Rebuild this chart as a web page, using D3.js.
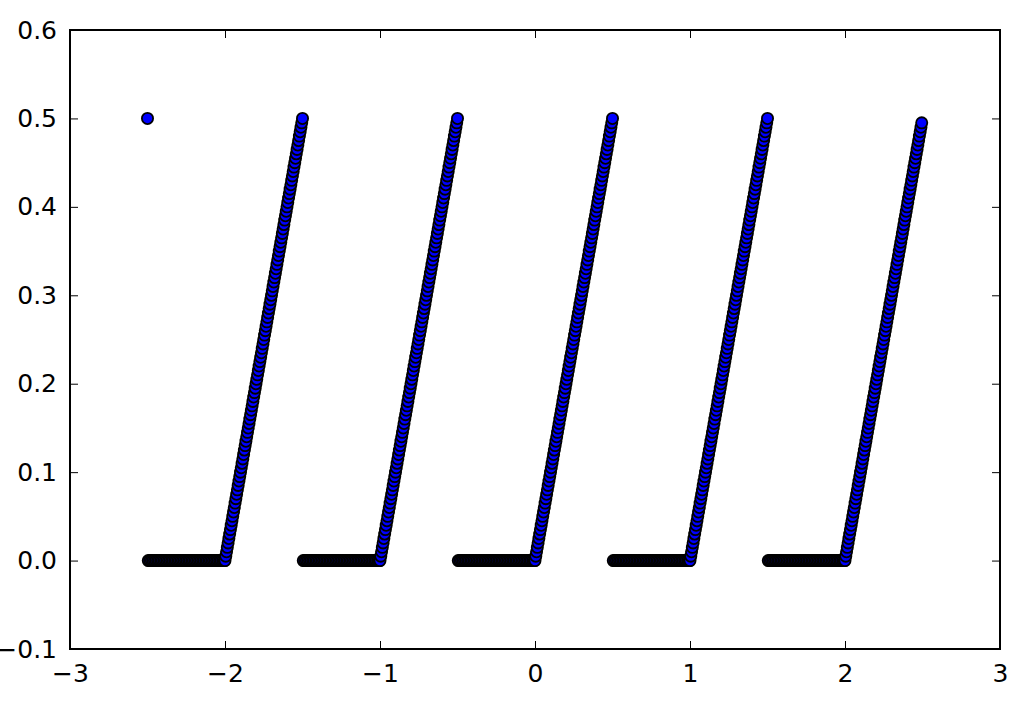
<!DOCTYPE html>
<html>
<head>
<meta charset="utf-8">
<script src="https://cdn.jsdelivr.net/npm/d3@7"></script>
<style>
  body { margin: 0; background: #fff; }
  text { font-family: "DejaVu Sans", sans-serif; }
</style>
</head>
<body>
<div id="chart"></div>
<script>
// points, segment by segment (left to right)
const loneX = [-2.5];
const loneY = [0.5];

const flatX1 = [-2.495,-2.485,-2.475,-2.465,-2.455,-2.445,-2.435,-2.425,-2.415,-2.405,-2.395,-2.385,-2.375,-2.365,-2.355,-2.345,-2.335,-2.325,-2.315,-2.305,-2.295,-2.285,-2.275,-2.265,-2.255,-2.245,-2.235,-2.225,-2.215,-2.205,-2.195,-2.185,-2.175,-2.165,-2.155,-2.145,-2.135,-2.125,-2.115,-2.105,-2.095,-2.085,-2.075,-2.065,-2.055,-2.045,-2.035,-2.025,-2.015,-2.005];
const flatX2 = [-1.495,-1.485,-1.475,-1.465,-1.455,-1.445,-1.435,-1.425,-1.415,-1.405,-1.395,-1.385,-1.375,-1.365,-1.355,-1.345,-1.335,-1.325,-1.315,-1.305,-1.295,-1.285,-1.275,-1.265,-1.255,-1.245,-1.235,-1.225,-1.215,-1.205,-1.195,-1.185,-1.175,-1.165,-1.155,-1.145,-1.135,-1.125,-1.115,-1.105,-1.095,-1.085,-1.075,-1.065,-1.055,-1.045,-1.035,-1.025,-1.015,-1.005];
const flatX3 = [-0.495,-0.485,-0.475,-0.465,-0.455,-0.445,-0.435,-0.425,-0.415,-0.405,-0.395,-0.385,-0.375,-0.365,-0.355,-0.345,-0.335,-0.325,-0.315,-0.305,-0.295,-0.285,-0.275,-0.265,-0.255,-0.245,-0.235,-0.225,-0.215,-0.205,-0.195,-0.185,-0.175,-0.165,-0.155,-0.145,-0.135,-0.125,-0.115,-0.105,-0.095,-0.085,-0.075,-0.065,-0.055,-0.045,-0.035,-0.025,-0.015,-0.005];
const flatX4 = [0.505,0.515,0.525,0.535,0.545,0.555,0.565,0.575,0.585,0.595,0.605,0.615,0.625,0.635,0.645,0.655,0.665,0.675,0.685,0.695,0.705,0.715,0.725,0.735,0.745,0.755,0.765,0.775,0.785,0.795,0.805,0.815,0.825,0.835,0.845,0.855,0.865,0.875,0.885,0.895,0.905,0.915,0.925,0.935,0.945,0.955,0.965,0.975,0.985,0.995];
const flatX5 = [1.505,1.515,1.525,1.535,1.545,1.555,1.565,1.575,1.585,1.595,1.605,1.615,1.625,1.635,1.645,1.655,1.665,1.675,1.685,1.695,1.705,1.715,1.725,1.735,1.745,1.755,1.765,1.775,1.785,1.795,1.805,1.815,1.825,1.835,1.845,1.855,1.865,1.875,1.885,1.895,1.905,1.915,1.925,1.935,1.945,1.955,1.965,1.975,1.985,1.995];
const flatY = [0,0,0,0,0,0,0,0,0,0,0,0,0,0,0,0,0,0,0,0,0,0,0,0,0,0,0,0,0,0,0,0,0,0,0,0,0,0,0,0,0,0,0,0,0,0,0,0,0,0];

const rampX1 = [-2,-1.995,-1.99,-1.985,-1.98,-1.975,-1.97,-1.965,-1.96,-1.955,-1.95,-1.945,-1.94,-1.935,-1.93,-1.925,-1.92,-1.915,-1.91,-1.905,-1.9,-1.895,-1.89,-1.885,-1.88,-1.875,-1.87,-1.865,-1.86,-1.855,-1.85,-1.845,-1.84,-1.835,-1.83,-1.825,-1.82,-1.815,-1.81,-1.805,-1.8,-1.795,-1.79,-1.785,-1.78,-1.775,-1.77,-1.765,-1.76,-1.755,-1.75,-1.745,-1.74,-1.735,-1.73,-1.725,-1.72,-1.715,-1.71,-1.705,-1.7,-1.695,-1.69,-1.685,-1.68,-1.675,-1.67,-1.665,-1.66,-1.655,-1.65,-1.645,-1.64,-1.635,-1.63,-1.625,-1.62,-1.615,-1.61,-1.605,-1.6,-1.595,-1.59,-1.585,-1.58,-1.575,-1.57,-1.565,-1.56,-1.555,-1.55,-1.545,-1.54,-1.535,-1.53,-1.525,-1.52,-1.515,-1.51,-1.505,-1.5];
const rampX2 = [-1,-0.995,-0.99,-0.985,-0.98,-0.975,-0.97,-0.965,-0.96,-0.955,-0.95,-0.945,-0.94,-0.935,-0.93,-0.925,-0.92,-0.915,-0.91,-0.905,-0.9,-0.895,-0.89,-0.885,-0.88,-0.875,-0.87,-0.865,-0.86,-0.855,-0.85,-0.845,-0.84,-0.835,-0.83,-0.825,-0.82,-0.815,-0.81,-0.805,-0.8,-0.795,-0.79,-0.785,-0.78,-0.775,-0.77,-0.765,-0.76,-0.755,-0.75,-0.745,-0.74,-0.735,-0.73,-0.725,-0.72,-0.715,-0.71,-0.705,-0.7,-0.695,-0.69,-0.685,-0.68,-0.675,-0.67,-0.665,-0.66,-0.655,-0.65,-0.645,-0.64,-0.635,-0.63,-0.625,-0.62,-0.615,-0.61,-0.605,-0.6,-0.595,-0.59,-0.585,-0.58,-0.575,-0.57,-0.565,-0.56,-0.555,-0.55,-0.545,-0.54,-0.535,-0.53,-0.525,-0.52,-0.515,-0.51,-0.505,-0.5];
const rampX3 = [0,0.005,0.01,0.015,0.02,0.025,0.03,0.035,0.04,0.045,0.05,0.055,0.06,0.065,0.07,0.075,0.08,0.085,0.09,0.095,0.1,0.105,0.11,0.115,0.12,0.125,0.13,0.135,0.14,0.145,0.15,0.155,0.16,0.165,0.17,0.175,0.18,0.185,0.19,0.195,0.2,0.205,0.21,0.215,0.22,0.225,0.23,0.235,0.24,0.245,0.25,0.255,0.26,0.265,0.27,0.275,0.28,0.285,0.29,0.295,0.3,0.305,0.31,0.315,0.32,0.325,0.33,0.335,0.34,0.345,0.35,0.355,0.36,0.365,0.37,0.375,0.38,0.385,0.39,0.395,0.4,0.405,0.41,0.415,0.42,0.425,0.43,0.435,0.44,0.445,0.45,0.455,0.46,0.465,0.47,0.475,0.48,0.485,0.49,0.495,0.5];
const rampX4 = [1,1.005,1.01,1.015,1.02,1.025,1.03,1.035,1.04,1.045,1.05,1.055,1.06,1.065,1.07,1.075,1.08,1.085,1.09,1.095,1.1,1.105,1.11,1.115,1.12,1.125,1.13,1.135,1.14,1.145,1.15,1.155,1.16,1.165,1.17,1.175,1.18,1.185,1.19,1.195,1.2,1.205,1.21,1.215,1.22,1.225,1.23,1.235,1.24,1.245,1.25,1.255,1.26,1.265,1.27,1.275,1.28,1.285,1.29,1.295,1.3,1.305,1.31,1.315,1.32,1.325,1.33,1.335,1.34,1.345,1.35,1.355,1.36,1.365,1.37,1.375,1.38,1.385,1.39,1.395,1.4,1.405,1.41,1.415,1.42,1.425,1.43,1.435,1.44,1.445,1.45,1.455,1.46,1.465,1.47,1.475,1.48,1.485,1.49,1.495,1.5];
const rampX5 = [2,2.005,2.01,2.015,2.02,2.025,2.03,2.035,2.04,2.045,2.05,2.055,2.06,2.065,2.07,2.075,2.08,2.085,2.09,2.095,2.1,2.105,2.11,2.115,2.12,2.125,2.13,2.135,2.14,2.145,2.15,2.155,2.16,2.165,2.17,2.175,2.18,2.185,2.19,2.195,2.2,2.205,2.21,2.215,2.22,2.225,2.23,2.235,2.24,2.245,2.25,2.255,2.26,2.265,2.27,2.275,2.28,2.285,2.29,2.295,2.3,2.305,2.31,2.315,2.32,2.325,2.33,2.335,2.34,2.345,2.35,2.355,2.36,2.365,2.37,2.375,2.38,2.385,2.39,2.395,2.4,2.405,2.41,2.415,2.42,2.425,2.43,2.435,2.44,2.445,2.45,2.455,2.46,2.465,2.47,2.475,2.48,2.485,2.49,2.495];
const rampY = [0,0.005,0.01,0.015,0.02,0.025,0.03,0.035,0.04,0.045,0.05,0.055,0.06,0.065,0.07,0.075,0.08,0.085,0.09,0.095,0.1,0.105,0.11,0.115,0.12,0.125,0.13,0.135,0.14,0.145,0.15,0.155,0.16,0.165,0.17,0.175,0.18,0.185,0.19,0.195,0.2,0.205,0.21,0.215,0.22,0.225,0.23,0.235,0.24,0.245,0.25,0.255,0.26,0.265,0.27,0.275,0.28,0.285,0.29,0.295,0.3,0.305,0.31,0.315,0.32,0.325,0.33,0.335,0.34,0.345,0.35,0.355,0.36,0.365,0.37,0.375,0.38,0.385,0.39,0.395,0.4,0.405,0.41,0.415,0.42,0.425,0.43,0.435,0.44,0.445,0.45,0.455,0.46,0.465,0.47,0.475,0.48,0.485,0.49,0.495,0.5];

const xTicks = [-3, -2, -1, 0, 1, 2, 3];
const yTicks = [-0.1, 0, 0.1, 0.2, 0.3, 0.4, 0.5, 0.6];

// order in which the points were plotted (later ones sit on top)
const segments = [
    [loneX, loneY],
    [flatX1, flatY], [rampX1, rampY],
    [flatX2, flatY], [rampX2, rampY],
    [flatX3, flatY], [rampX3, rampY],
    [flatX4, flatY], [rampX4, rampY],
    [flatX5, flatY], [rampX5, rampY]
];

function dessine(){
    let largeur = 1024, hauteur = 704;
    let gauche = 70, droite = 1000, haut = 30, bas = 649;

    let x = d3.scaleLinear().domain([-3, 3]).range([gauche, droite]);
    let y = d3.scaleLinear().domain([-0.1, 0.6]).range([bas, haut]);

    let svg = d3.select("#chart").append("svg")
        .attr("width", largeur).attr("height", hauteur);

    let points = [];
    segments.forEach(s => {
        s[0].forEach((v, i) => points.push([v, s[1][i]]));
    });

    svg.append("g").selectAll("circle")
        .data(points)
        .join("circle")
        .attr("cx", d => x(d[0]))
        .attr("cy", d => y(d[1]))
        .attr("r", 5.6)
        .attr("fill", "#0000ff")
        .attr("stroke", "#000")
        .attr("stroke-width", 1.8);

    let fmtX = d3.format("d"), fmtY = d3.format(".1f");

    // ticks pointing inward on all four sides, labels only bottom/left
    svg.append("g").attr("transform", `translate(0,${bas})`)
        .call(d3.axisBottom(x).tickValues(xTicks).tickFormat(fmtX).tickSizeInner(-8).tickSizeOuter(0).tickPadding(15));
    svg.append("g").attr("transform", `translate(0,${haut})`)
        .call(d3.axisTop(x).tickValues(xTicks).tickFormat("").tickSizeInner(-8).tickSizeOuter(0));
    svg.append("g").attr("transform", `translate(${gauche},0)`)
        .call(d3.axisLeft(y).tickValues(yTicks).tickFormat(fmtY).tickSizeInner(-8).tickSizeOuter(0).tickPadding(13));
    svg.append("g").attr("transform", `translate(${droite},0)`)
        .call(d3.axisRight(y).tickValues(yTicks).tickFormat("").tickSizeInner(-8).tickSizeOuter(0));

    svg.selectAll(".domain").remove();
    svg.selectAll(".tick line").attr("stroke", "#000").attr("stroke-width", 1);
    svg.selectAll(".tick text")
        .attr("fill", "#000")
        .style("font-size", "25px")
        .style("font-family", "'DejaVu Sans', sans-serif");

    svg.append("rect")
        .attr("x", gauche).attr("y", haut)
        .attr("width", droite - gauche).attr("height", bas - haut)
        .attr("fill", "none").attr("stroke", "#000").attr("stroke-width", 2);
}

dessine();
</script>
</body>
</html>
